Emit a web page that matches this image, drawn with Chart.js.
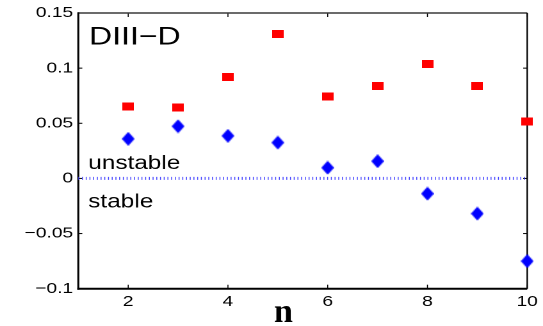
<!DOCTYPE html>
<html>
<head>
<meta charset="utf-8">
<script src="https://cdn.jsdelivr.net/npm/chart.js@4/dist/chart.umd.min.js"></script>
<style>
  html, body { margin: 0; padding: 0; background: #fff; overflow: hidden; }
  /* the plot is laid out narrow and widened, giving the broad lettering */
  #wrap { position: absolute; left: 0; top: 0; width: 424px; height: 326px;
          transform: scaleX(1.28066); transform-origin: 0 0; }
</style>
</head>
<body>
<div id="wrap"><canvas id="c" width="424" height="326"></canvas></div>
<script>
// toroidal mode number n
const modes = [2, 3, 4, 5, 6, 7, 8, 9, 10];
// red squares
const squareValues = [0.0651, 0.0641, 0.0919, 0.1310, 0.0741, 0.0838, 0.1036, 0.0840, 0.0515];
// blue diamonds
const diamondValues = [0.0359, 0.0473, 0.0386, 0.0325, 0.0097, 0.0156, -0.0138, -0.0319, -0.0750];
// stability boundary
const boundaryLevel = 0;
const xRange = [1, 10];
const yRange = [-0.1, 0.15];
const xTicks = [2, 4, 6, 8, 10];
const yTicks = [-0.1, -0.05, 0, 0.05, 0.1, 0.15];
const yTickLabels = ['\u22120.1', '\u22120.05', '0', '0.05', '0.1', '0.15'];

const S = 543 / 424;   // horizontal widening of the wrapper

function markerCanvas(w, h, draw) {
  const cv = document.createElement('canvas');
  cv.width = w; cv.height = h;
  const g = cv.getContext('2d');
  draw(g, w, h);
  return cv;
}
const squareMark = markerCanvas(9, 8, (g, w, h) => { g.fillStyle = '#ff0000'; g.fillRect(0, 0, w, h); });
const diamondMark = markerCanvas(10, 14, (g, w, h) => {
  g.fillStyle = '#0000ff';
  g.beginPath();
  g.moveTo(w / 2, 0); g.lineTo(w, h / 2); g.lineTo(w / 2, h); g.lineTo(0, h / 2);
  g.closePath(); g.fill();
});

const framePlugin = {
  id: 'frame',
  beforeDatasetsDraw(chart) {
    const { ctx, chartArea: a, scales: { x, y } } = chart;
    const seg = (x1, y1, x2, y2) => { ctx.beginPath(); ctx.moveTo(x1, y1); ctx.lineTo(x2, y2); ctx.stroke(); };
    ctx.save();
    ctx.strokeStyle = '#000';
    const tl = 4;
    ctx.lineWidth = 1 / S;
    xTicks.forEach(v => {
      const px = x.getPixelForValue(v);
      seg(px, a.bottom, px, a.bottom - tl);
      seg(px, a.top, px, a.top + tl);
    });
    ctx.lineWidth = 1;
    yTicks.forEach(v => {
      const py = y.getPixelForValue(v);
      seg(a.left, py, a.left + tl / S, py);
      seg(a.right, py, a.right - tl / S, py);
    });
    // box
    ctx.strokeStyle = '#3a3a3a'; ctx.lineWidth = 1.5;
    seg(a.left, a.top, a.right, a.top);
    ctx.strokeStyle = '#000'; ctx.lineWidth = 1.5 / S;
    seg(a.right, a.top, a.right, a.bottom);
    ctx.lineWidth = 2 / S;
    seg(a.left, a.top - 0.75, a.left, a.bottom + 1);
    ctx.lineWidth = 2;
    seg(a.left - 1 / S, a.bottom, a.right, a.bottom);
    ctx.restore();
  },
  afterDraw(chart) {
    const { ctx, scales: { x, y } } = chart;
    ctx.save();
    ctx.fillStyle = '#000';
    ctx.textAlign = 'left';
    ctx.textBaseline = 'alphabetic';
    ctx.font = '25px "Liberation Sans", Arial, sans-serif';
    ctx.fillText('DIII\u2212D', x.getPixelForValue(1.215), y.getPixelForValue(0.1216));
    ctx.font = '19px "Liberation Sans", Arial, sans-serif';
    ctx.fillText('unstable', x.getPixelForValue(1.2), y.getPixelForValue(0.0087));
    ctx.fillText('stable', x.getPixelForValue(1.2), y.getPixelForValue(-0.0265));
    // axis title, kept at its natural width
    ctx.translate(x.getPixelForValue(5.11), 322);
    ctx.scale(1 / S, 1);
    ctx.textAlign = 'center';
    ctx.font = 'bold 34px "Liberation Serif", "Times New Roman", serif';
    ctx.fillText('n', 0, 0);
    ctx.restore();
  }
};

new Chart(document.getElementById('c'), {
  type: 'scatter',
  data: {
    datasets: [
      {
        label: 'squares',
        data: modes.map((n, i) => ({ x: n, y: squareValues[i] })),
        pointStyle: squareMark,
        pointRadius: 5,
        clip: false
      },
      {
        label: 'diamonds',
        data: modes.map((n, i) => ({ x: n, y: diamondValues[i] })),
        pointStyle: diamondMark,
        pointRadius: 6,
        clip: false
      },
      {
        type: 'line',
        label: 'boundary',
        data: xRange.map(v => ({ x: v, y: boundaryLevel })),
        borderColor: 'rgba(50, 50, 255, 0.9)',
        borderWidth: 3,
        borderDash: [0.75, 2.15],
        pointRadius: 0,
        fill: false,
        clip: false
      }
    ]
  },
  options: {
    responsive: false,
    animation: false,
    devicePixelRatio: 2,
    layout: { padding: { left: 0, right: 424 - 529 / S, top: 12, bottom: 0 } },
    plugins: { legend: { display: false }, tooltip: { enabled: false } },
    scales: {
      x: {
        type: 'linear',
        min: xRange[0], max: xRange[1],
        grid: { display: false, drawTicks: false },
        border: { display: false },
        afterBuildTicks: s => { s.ticks = xTicks.map(v => ({ value: v })); },
        afterFit: s => { s.height = 326 - 288.7; },
        ticks: {
          padding: 4,
          color: '#000',
          font: { family: '"Liberation Sans", Arial, sans-serif', size: 15 },
          maxRotation: 0
        }
      },
      y: {
        min: yRange[0], max: yRange[1],
        grid: { display: false, drawTicks: false },
        border: { display: false },
        afterBuildTicks: s => { s.ticks = yTicks.map(v => ({ value: v })); },
        afterFit: s => { s.width = 78.3 / S; },
        ticks: {
          padding: 4,
          color: '#000',
          font: { family: '"Liberation Sans", Arial, sans-serif', size: 15 },
          callback: v => yTickLabels[yTicks.indexOf(v)]
        }
      }
    }
  },
  plugins: [framePlugin]
});
</script>
</body>
</html>
